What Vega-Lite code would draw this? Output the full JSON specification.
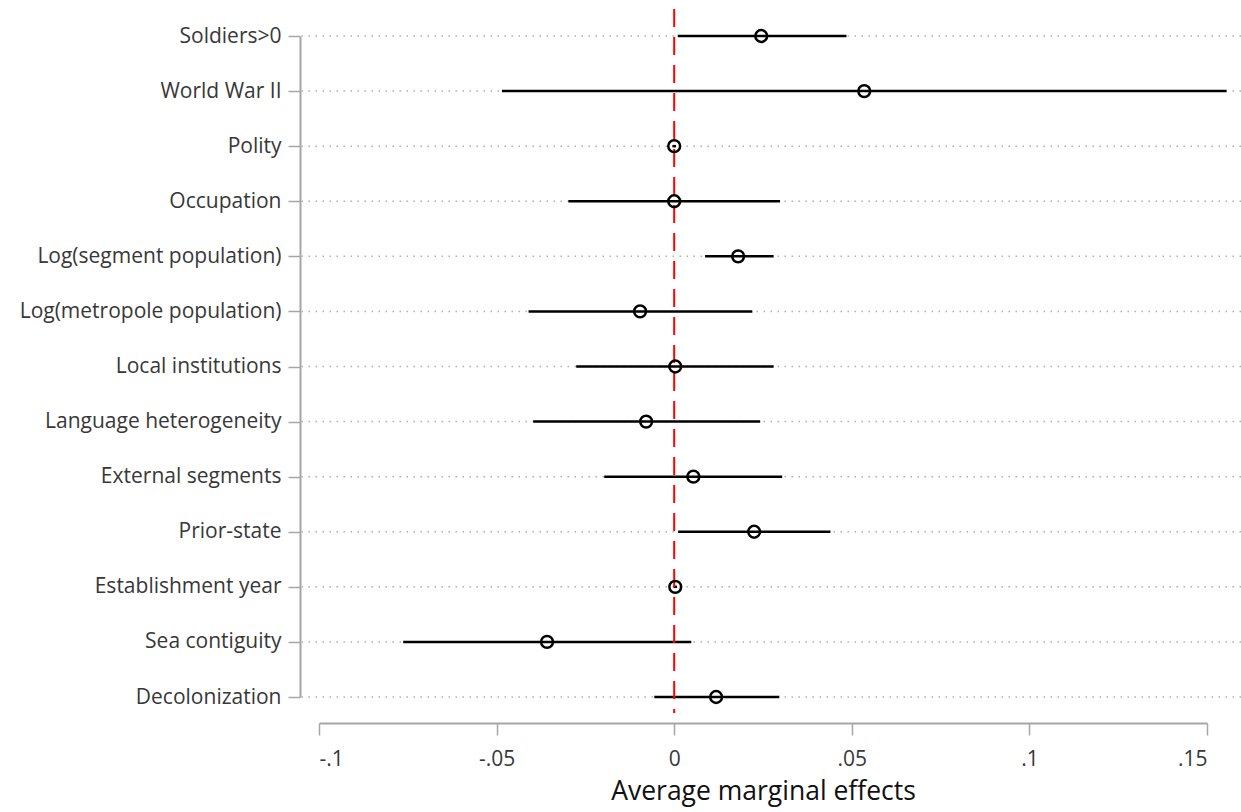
{
  "$schema": "https://vega.github.io/schema/vega-lite/v6.json",
  "width": 941,
  "height": 704,
  "autosize": {"type": "none"},
  "padding": {"left": 300, "top": 9, "right": 0, "bottom": 99},
  "background": "white",
  "config": {
    "view": {"stroke": null},
    "font": "Open Sans"
  },
  "data": {
    "values": [
      {"var": "Soldiers>0", "est": 0.0245, "lo": 0.001, "hi": 0.0485},
      {"var": "World War II", "est": 0.0535, "lo": -0.0485, "hi": 0.1555},
      {"var": "Polity", "est": 0.0, "lo": -0.0005, "hi": 0.0005},
      {"var": "Occupation", "est": 0.0, "lo": -0.0298, "hi": 0.0298},
      {"var": "Log(segment population)", "est": 0.018, "lo": 0.0087, "hi": 0.028},
      {"var": "Log(metropole population)", "est": -0.0096, "lo": -0.041, "hi": 0.022},
      {"var": "Local institutions", "est": 0.0003, "lo": -0.0276, "hi": 0.028},
      {"var": "Language heterogeneity", "est": -0.0079, "lo": -0.0397, "hi": 0.0242},
      {"var": "External segments", "est": 0.0054, "lo": -0.0197, "hi": 0.0304},
      {"var": "Prior-state", "est": 0.0225, "lo": 0.0011, "hi": 0.044},
      {"var": "Establishment year", "est": 0.0003, "lo": -0.0002, "hi": 0.0008},
      {"var": "Sea contiguity", "est": -0.0358, "lo": -0.0763, "hi": 0.0048},
      {"var": "Decolonization", "est": 0.0118, "lo": -0.0056, "hi": 0.0296}
    ]
  },
  "encoding": {
    "y": {
      "field": "var",
      "type": "nominal",
      "sort": null,
      "scale": {"type": "point", "range": [27, 688], "padding": 0},
      "axis": {
        "title": null,
        "domainColor": "#a6a6a6",
        "domainWidth": 2,
        "tickColor": "#a6a6a6",
        "tickWidth": 1.5,
        "tickSize": 12,
        "labelPadding": 7,
        "labelFontSize": 21,
        "labelColor": "#383838",
        "labelFont": "Open Sans",
        "labelLimit": 500,
        "grid": false
      }
    }
  },
  "layer": [
    {
      "mark": {"type": "rule", "color": "#b0b0b0", "strokeWidth": 1.5, "strokeDash": [1.5, 5.5]},
      "encoding": {}
    },
    {
      "mark": {"type": "rule", "color": "black", "strokeWidth": 2.5},
      "encoding": {
        "x": {
          "field": "lo",
          "type": "quantitative",
          "scale": {"domain": [-0.1, 0.15], "range": [19, 907], "zero": false, "nice": false},
          "axis": {
            "values": [-0.1, -0.05, 0, 0.05, 0.1, 0.15],
            "labelExpr": "replace(replace(format(datum.value, '~g'), '0.', '.'), '\u2212', '-')",
            "offset": 10,
            "grid": false,
            "domainColor": "#a6a6a6",
            "domainWidth": 2,
            "tickColor": "#a6a6a6",
            "tickWidth": 1.5,
            "tickSize": 12,
            "labelPadding": 13,
            "labelFontSize": 21,
            "labelColor": "#383838",
            "title": "Average marginal effects",
            "titleFontSize": 26.5,
            "titleFontWeight": "normal",
            "titleColor": "#111111",
            "titlePadding": 9
          }
        },
        "x2": {"field": "hi"}
      }
    },
    {
      "data": {"values": [{"ref": 0}]},
      "mark": {"type": "rule", "color": "#ff0000", "strokeWidth": 2, "strokeDash": [18, 10]},
      "encoding": {
        "x": {"field": "ref", "type": "quantitative"},
        "y": null
      }
    },
    {
      "mark": {"type": "point", "shape": "circle", "filled": false, "color": "black", "strokeWidth": 2.5, "size": 140, "opacity": 1},
      "encoding": {
        "x": {"field": "est", "type": "quantitative"}
      }
    }
  ]
}
